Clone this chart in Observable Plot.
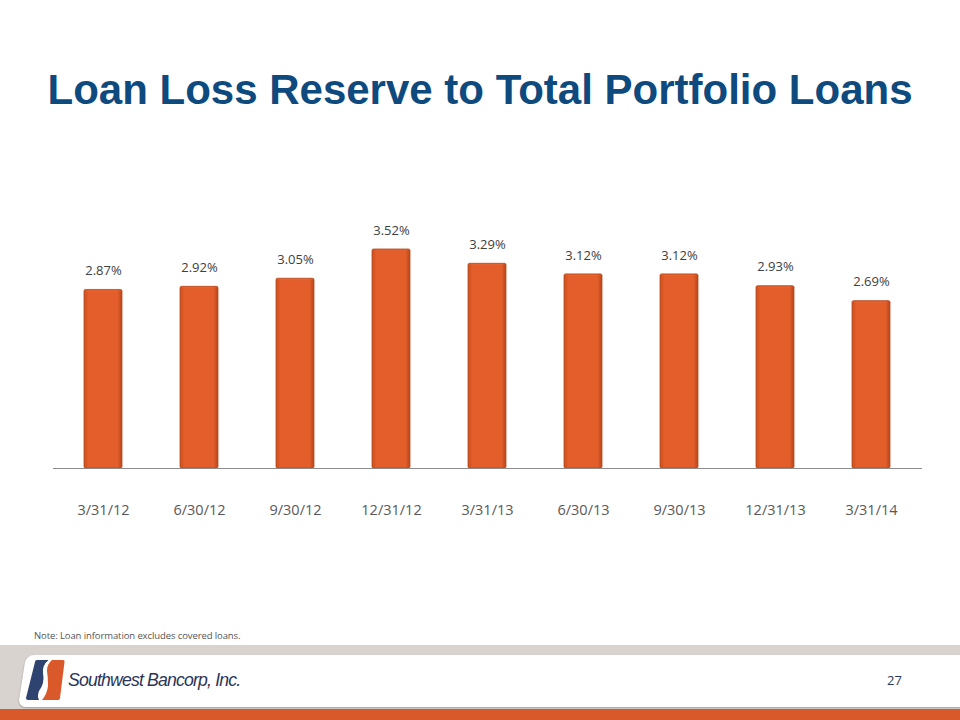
<!DOCTYPE html>
<html>
<head>
<meta charset="utf-8">
<script src="https://cdn.jsdelivr.net/npm/d3@7"></script>
<script src="https://cdn.jsdelivr.net/npm/@observablehq/plot@0.6"></script>
<style>
  html, body { margin: 0; padding: 0; background: #fff; }
  #page { position: relative; width: 960px; height: 720px; overflow: hidden; background: #fff; font-family: "Open Sans", "Liberation Sans", sans-serif; }
  #title { position: absolute; left: 0; width: 960px; top: 66px; text-align: center; font-family: "Liberation Sans", Arial, sans-serif; font-weight: bold; font-size: 42px; color: #0E4A7D; white-space: nowrap; }
  #chart { position: absolute; left: 0; top: 200px; }
  #note { position: absolute; left: 34px; top: 629px; font-size: 9.5px; color: #555; font-family: "Open Sans", sans-serif; letter-spacing: -0.1px; }
  #band { position: absolute; left: 0; top: 645px; width: 960px; height: 64px; background: #d8d3cf; }
  #panel { position: absolute; left: 22px; top: 655px; width: 950px; height: 52px; background: #fff; border-radius: 8px 0 0 8px; transform: skewX(-9deg); box-shadow: 0 1px 2px rgba(0,0,0,0.25); }
  #orange { position: absolute; left: 0; top: 709px; width: 960px; height: 11px; background: #D9592A; }
  #brand { position: absolute; left: 68px; top: 669px; font-family: "Liberation Sans", Arial, sans-serif; font-style: italic; font-size: 19px; color: #2B3557; letter-spacing: -0.9px; transform: scaleX(0.93); transform-origin: left center; }
  #pagenum { position: absolute; left: 887px; top: 671px; font-size: 13px; color: #2B3557; font-family: "Open Sans", sans-serif; }
  #logo { position: absolute; left: 25px; top: 659px; }
</style>
</head>
<body>
<div id="page">
  <div id="title">Loan Loss Reserve to Total Portfolio Loans</div>
  <div id="chart"></div>
  <div id="note">Note: Loan information excludes covered loans.</div>
  <div id="band"></div>
  <div id="panel"></div>
  <div id="orange"></div>
  <svg id="logo" width="40" height="42" viewBox="0 0 40 42">
    <path d="M10 3 Q10 1 12 1 L24 1 Q17 6 18 14 Q20 24 14 32 Q12 37 14 41 L3 41 Q1 41 1 39 Z" fill="#2F4370"/>
    <path d="M27 1 L38 1 Q40 1 39.5 3 L35 39 Q35 41 33 41 L17 41 Q22 35 23 27 Q23 18 22 12 Q22 5 27 1 Z" fill="#D9592A"/>
    <path d="M25 1 Q18 7 20 15 Q22 24 16 33 Q14 37 15.5 41" fill="none" stroke="#fff" stroke-width="2.2"/>
  </svg>
  <div id="brand">Southwest Bancorp, Inc.</div>
  <div id="pagenum">27</div>
</div>
<script>
const periods = ["3/31/12", "6/30/12", "9/30/12", "12/31/12", "3/31/13", "6/30/13", "9/30/13", "12/31/13", "3/31/14"];
const ratios = [2.87, 2.92, 3.05, 3.52, 3.29, 3.12, 3.12, 2.93, 2.69];

const data = periods.map((p, i) => ({period: p, value: ratios[i]}));

const chart = Plot.plot({
  width: 960,
  height: 330,
  marginLeft: 53,
  marginRight: 38,
  marginTop: 49,
  marginBottom: 62,
  style: {fontFamily: "'Open Sans', sans-serif", background: "transparent"},
  x: {domain: periods, paddingInner: 0.6, paddingOuter: 0.3, label: null},
  y: {domain: [0, 3.52], axis: null},
  marks: [
    Plot.barY(data, {x: "period", y: "value", fill: "url(#barGrad)", stroke: "#B8481C", strokeWidth: 0.8, rx: 1.5}),
    Plot.barY(data, {x: "period", y1: d => d.value, y2: d => d.value - 0.05, fill: "#F28A5C", inset: 1.5}),
    Plot.text(data, {x: "period", y: "value", text: d => d.value.toFixed(2) + "%", dy: -19, fontSize: 13, fill: "#404040"}),
    Plot.ruleY([0], {stroke: "#8c8c8c", strokeWidth: 1}),
    Plot.axisX({tickSize: 0, tickPadding: 36, fontSize: 14.5, color: "#595959", label: null})
  ]
});

const defs = d3.create("svg:defs");
const g = defs.append("linearGradient").attr("id", "barGrad").attr("x1", "0").attr("x2", "1").attr("y1", "0").attr("y2", "0");
g.append("stop").attr("offset", "0%").attr("stop-color", "#C9501F");
g.append("stop").attr("offset", "12%").attr("stop-color", "#E35E2B");
g.append("stop").attr("offset", "88%").attr("stop-color", "#E35E2B");
g.append("stop").attr("offset", "100%").attr("stop-color", "#B8481C");
chart.insertBefore(defs.node(), chart.firstChild);

document.getElementById("chart").appendChild(chart);
</script>
</body>
</html>
